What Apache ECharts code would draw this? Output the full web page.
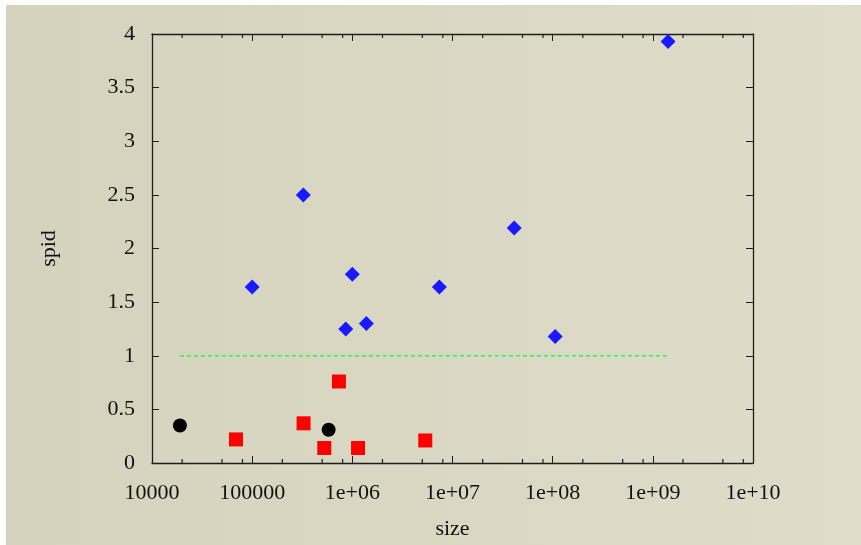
<!DOCTYPE html>
<html>
<head>
<meta charset="utf-8">
<script src="https://cdn.jsdelivr.net/npm/echarts@6/dist/echarts.min.js"></script>
<style>
html,body{margin:0;padding:0;background:#ffffff;width:861px;height:545px;overflow:hidden;}
#c{position:absolute;left:6px;top:5px;width:855px;height:540px;}
</style>
</head>
<body>
<div id="c"></div>
<script>
// ---- data ----
var xTickLabels = ['10000', '100000', '1e+06', '1e+07', '1e+08', '1e+09', '1e+10'];
var yTickLabels = ['0', '0.5', '1', '1.5', '2', '2.5', '3', '3.5', '4'];
var minorTickX = [2e4,5e4,8e4, 2e5,5e5,8e5, 2e6,5e6,8e6, 2e7,5e7,8e7, 2e8,5e8,8e8, 2e9,5e9,8e9];

var blueX = [1.0e5, 3.24e5, 8.6e5, 1.0e6, 1.38e6, 7.4e6, 4.13e7, 1.06e8, 1.42e9];
var blueY = [1.64, 2.50, 1.25, 1.76, 1.30, 1.64, 2.19, 1.18, 3.93];

var redX = [6.9e4, 3.26e5, 5.25e5, 7.35e5, 1.14e6, 5.35e6];
var redY = [0.22, 0.37, 0.14, 0.76, 0.14, 0.21];

var blackX = [1.9e4, 5.8e5];
var blackY = [0.35, 0.31];

var refX = [1.9e4, 1.42e9];
var refY = [1, 1];

var yMin = 0, yMax = 4;

function pairs(xs, ys) { return xs.map(function (x, i) { return [x, ys[i]]; }); }
function atY(xs, y) { return xs.map(function (x) { return [x, y]; }); }

var font = 'Liberation Serif';
var axisColor = '#1e1e1e';

var chart = echarts.init(document.getElementById('c'), null, {renderer: 'canvas'});

function xAxisBase(pos, showLabel) {
  return {
    type: 'log', logBase: 10, min: 1e4, max: 1e10, position: pos,
    axisLine: {show: true, onZero: false, lineStyle: {color: axisColor, width: 1.3}},
    axisTick: {show: true, inside: true, length: 7, lineStyle: {color: axisColor, width: 1}},
    splitLine: {show: false},
    axisLabel: showLabel ? {
      show: true, margin: 19, color: '#111', fontFamily: font, fontSize: 22,
      formatter: function (v) {
        var i = Math.round(Math.log10(v)) - 4;
        return xTickLabels[i] !== undefined ? xTickLabels[i] : '';
      }
    } : {show: false}
  };
}

var xAxes = [
  Object.assign(xAxisBase('bottom', true), {
    name: 'size', nameLocation: 'middle', nameGap: 55,
    nameTextStyle: {fontFamily: font, fontSize: 22, color: '#111'}
  }),
  xAxisBase('top', false)
];

var yAxes = [
  {
    type: 'value', min: yMin, max: yMax, interval: 0.5, position: 'left',
    name: 'spid', nameLocation: 'middle', nameGap: 92, nameRotate: 90,
    nameTextStyle: {fontFamily: font, fontSize: 22, color: '#111'},
    axisLine: {show: true, onZero: false, lineStyle: {color: axisColor, width: 1.3}},
    axisTick: {show: true, inside: true, length: 7, lineStyle: {color: axisColor, width: 1}},
    splitLine: {show: false},
    axisLabel: {
      margin: 17, color: '#111', fontFamily: font, fontSize: 22,
      formatter: function (v) { return yTickLabels[Math.round(v / 0.5)]; }
    }
  },
  {
    type: 'value', min: yMin, max: yMax, interval: 0.5, position: 'right',
    axisLine: {show: true, onZero: false, lineStyle: {color: axisColor, width: 1.3}},
    axisTick: {show: true, inside: true, length: 7, lineStyle: {color: axisColor, width: 1}},
    splitLine: {show: false},
    axisLabel: {show: false}
  }
];

chart.setOption({
  animation: false,
  backgroundColor: new echarts.graphic.LinearGradient(0, 0, 1, 0, [
    {offset: 0, color: '#d5d3bd'},
    {offset: 1, color: '#dfddca'}
  ]),
  grid: {left: 146, right: 108, top: 29, bottom: 81.5, containLabel: false},
  xAxis: xAxes,
  yAxis: yAxes,
  series: [
    // minor ticks on bottom and top frame
    {
      type: 'scatter', xAxisIndex: 0, yAxisIndex: 0, silent: true, clip: false,
      data: atY(minorTickX, yMin), symbol: 'rect', symbolSize: [1.2, 4], symbolOffset: [0, -2],
      itemStyle: {color: axisColor, opacity: 1}, z: 10
    },
    {
      type: 'scatter', xAxisIndex: 0, yAxisIndex: 0, silent: true, clip: false,
      data: atY(minorTickX, yMax), symbol: 'rect', symbolSize: [1.2, 4], symbolOffset: [0, 2],
      itemStyle: {color: axisColor, opacity: 1}, z: 10
    },
    {
      type: 'line', xAxisIndex: 0, yAxisIndex: 0,
      data: pairs(refX, refY), symbol: 'none',
      lineStyle: {color: '#1fff4a', width: 1.3, opacity: 1, type: [4, 3]}, z: 2
    },
    {
      type: 'scatter', xAxisIndex: 0, yAxisIndex: 0,
      data: pairs(blueX, blueY), symbol: 'diamond', symbolSize: 15,
      itemStyle: {color: '#1a1aff', opacity: 1}, z: 3
    },
    {
      type: 'scatter', xAxisIndex: 0, yAxisIndex: 0,
      data: pairs(redX, redY), symbol: 'rect', symbolSize: 14,
      itemStyle: {color: '#ff0000', opacity: 1}, z: 3
    },
    {
      type: 'scatter', xAxisIndex: 0, yAxisIndex: 0,
      data: pairs(blackX, blackY), symbol: 'circle', symbolSize: 14,
      itemStyle: {color: '#000000', opacity: 1}, z: 3
    }
  ]
});
</script>
</body>
</html>
